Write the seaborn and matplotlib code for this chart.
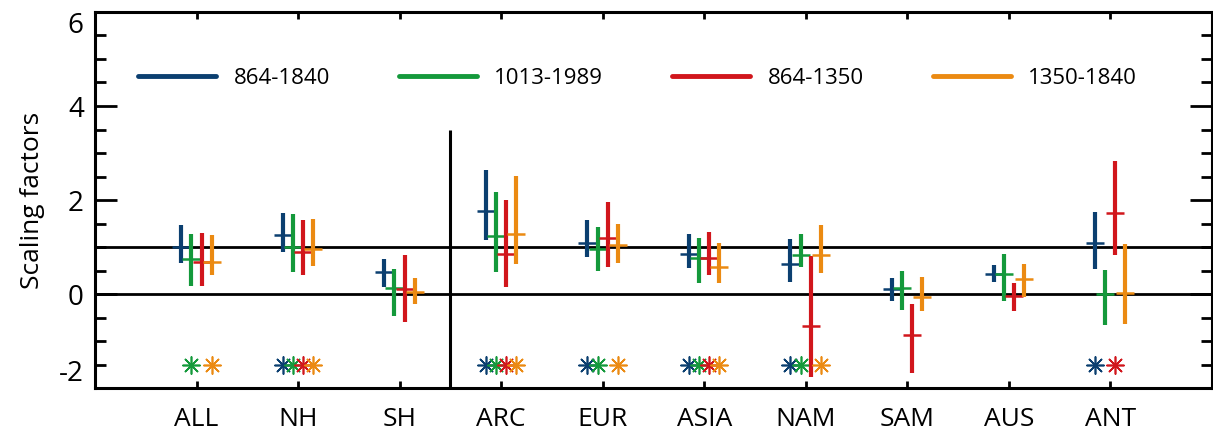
import numpy as np
import pandas as pd
import matplotlib
matplotlib.use("Agg")
import matplotlib.pyplot as plt
from matplotlib.lines import Line2D
from matplotlib.ticker import MultipleLocator
import seaborn as sns

regions = ['ALL', 'NH', 'SH', 'ARC', 'EUR', 'ASIA', 'NAM', 'SAM', 'AUS', 'ANT']
periods = ['864-1840', '1013-1989', '864-1350', '1350-1840']

best_864_1840 = [1.00, 1.26, 0.47, 1.76, 1.09, 0.86, 0.63, 0.10, 0.43, 1.09]
lo_864_1840 = [0.67, 0.89, 0.16, 1.14, 0.79, 0.55, 0.25, -0.14, 0.25, 0.54]
hi_864_1840 = [1.46, 1.73, 0.75, 2.64, 1.57, 1.27, 1.18, 0.35, 0.61, 1.75]

best_1013_1989 = [0.75, 1.00, 0.13, 1.23, 0.95, 0.77, 0.82, 0.13, 0.43, 0.00]
lo_1013_1989 = [0.18, 0.47, -0.47, 0.47, 0.50, 0.24, 0.57, -0.35, -0.15, -0.65]
hi_1013_1989 = [1.28, 1.70, 0.54, 2.17, 1.43, 1.19, 1.28, 0.50, 0.86, 0.52]

best_864_1350 = [0.68, 0.89, 0.11, 0.85, 1.19, 0.77, -0.67, -0.88, -0.05, 1.73]
lo_864_1350 = [0.18, 0.40, -0.59, 0.16, 0.57, 0.40, -1.77, -1.67, -0.37, 0.84]
hi_864_1350 = [1.29, 1.57, 0.84, 2.01, 1.96, 1.32, 0.81, -0.22, 0.23, 2.84]

best_1350_1840 = [0.69, 0.96, 0.05, 1.28, 1.05, 0.57, 0.84, -0.07, 0.32, 0.02]
lo_1350_1840 = [0.40, 0.59, -0.22, 0.64, 0.67, 0.23, 0.45, -0.37, -0.07, -0.64]
hi_1350_1840 = [1.25, 1.59, 0.35, 2.52, 1.48, 1.09, 1.46, 0.36, 0.63, 1.06]

# detection (asterisk) flags per period
detect_864_1840 = [0, 1, 0, 1, 1, 1, 1, 0, 0, 1]
detect_1013_1989 = [1, 1, 0, 1, 1, 1, 1, 0, 0, 0]
detect_864_1350 = [0, 1, 0, 1, 0, 1, 0, 0, 0, 1]
detect_1350_1840 = [1, 1, 0, 1, 1, 1, 1, 0, 0, 0]
detect_level = -1.5

colors = ['#0b3f70', '#14993b', '#d1161c', '#eb8a12']
offsets = [-0.15, -0.05, 0.05, 0.15]

best_all = [best_864_1840, best_1013_1989, best_864_1350, best_1350_1840]
lo_all = [lo_864_1840, lo_1013_1989, lo_864_1350, lo_1350_1840]
hi_all = [hi_864_1840, hi_1013_1989, hi_864_1350, hi_1350_1840]
det_all = [detect_864_1840, detect_1013_1989, detect_864_1350, detect_1350_1840]

sns.set_theme(style='ticks')
plt.rcParams['font.family'] = ['Open Sans', 'DejaVu Sans']
plt.rcParams['text.color'] = 'black'
plt.rcParams['axes.labelcolor'] = 'black'
plt.rcParams['xtick.color'] = 'black'
plt.rcParams['ytick.color'] = 'black'

fig = plt.figure(figsize=(12.13, 4.36), dpi=100)
ax = fig.add_axes([0.0783, 0.110, 0.9207, 0.8625])

ax.axhline(0, color='black', lw=2.0, zorder=1)
ax.axhline(1, color='black', lw=2.0, zorder=1)
ax.vlines(2.5, -2, 3.5, color='black', lw=2.2, zorder=1)

idx = np.arange(len(regions))
for i, p in enumerate(periods):
    x = idx + offsets[i]
    df = pd.DataFrame({'x': x, 'best': best_all[i], 'lo': lo_all[i], 'hi': hi_all[i], 'det': det_all[i]})
    ax.vlines(df['x'], df['lo'], df['hi'], color=colors[i], lw=3.0, zorder=3 + i)
    sns.scatterplot(data=df, x='x', y='best', marker='_', s=150, color=colors[i],
                    linewidth=1.8, ax=ax, zorder=3 + i, legend=False)
    d = df[df['det'] == 1].assign(lvl=detect_level)
    sns.scatterplot(data=d, x='x', y='lvl', marker=(8, 2, 0), s=150, color=colors[i],
                    linewidth=1.2, ax=ax, zorder=3 + i, legend=False)

ax.set_xlim(-1, 10)
ax.set_ylim(-2, 6)
ax.set_xticks(idx)
ax.set_xticklabels(regions, fontsize=19, color='black')
ax.set_yticks([-2, 0, 2, 4, 6])
ax.set_yticklabels(['-2', '0', '2', '4', '6'], fontsize=20, color='black')
ax.yaxis.set_minor_locator(MultipleLocator(0.5))
ax.set_xlabel('')
ax.set_ylabel('Scaling factors', fontsize=19, labelpad=10, color='black')

ax.tick_params(axis='y', which='major', direction='in', length=16, width=2, left=True, right=True, pad=8)
ax.tick_params(axis='y', which='minor', direction='in', length=8, width=2, left=True, right=True)
ax.tick_params(axis='x', which='major', direction='in', length=5, width=2, bottom=True, top=True, pad=14)
for s in ax.spines.values():
    s.set_linewidth(2.2)
    s.set_color('black')

ylabs = ax.get_yticklabels()
ylabs[0].set_va('bottom')
ylabs[-1].set_va('top')

handles = [Line2D([0], [0], color=c, lw=3.5) for c in colors]
leg = ax.legend(handles, periods, ncol=4, frameon=False, fontsize=16, loc='center left',
                bbox_to_anchor=(0.0385, 0.824), borderaxespad=0, borderpad=0,
                handlelength=3.5, handletextpad=0.8, columnspacing=3.1)
for t in leg.get_texts():
    t.set_color('black')

fig.savefig('out.png', dpi=100)
